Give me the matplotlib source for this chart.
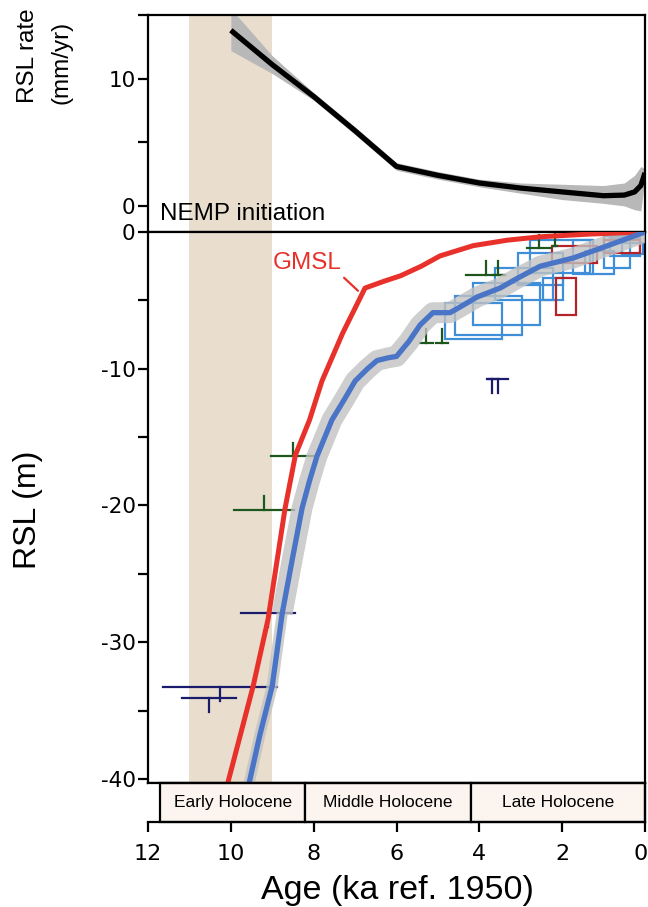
import matplotlib
matplotlib.use('Agg')
import matplotlib.pyplot as plt
from matplotlib.patches import Rectangle
import matplotlib.transforms as mtransforms
import numpy as np

# ---------------- data ----------------
# RSL rate (top panel)
rate_age = [10.0, 9.0, 8.0, 7.0, 6.0, 5.0, 4.0, 3.0, 2.0, 1.0, 0.5, 0.25, 0.1, 0.0]
rate_mid = [13.8, 11.1, 8.6, 5.9, 3.1, 2.4, 1.8, 1.4, 1.1, 0.8, 0.85, 1.1, 1.6, 2.6]
rate_lo = [12.2, 10.4, 8.3, 5.6, 2.8, 2.1, 1.5, 1.0, 0.5, 0.2, 0.0, -0.3, -0.4, 2.3]
rate_hi = [15.5, 11.8, 8.9, 6.2, 3.4, 2.7, 2.1, 1.8, 1.7, 1.6, 1.8, 2.4, 3.1, 2.9]

# GMSL curve
gmsl_age = [10.1, 9.46, 9.1, 8.69, 8.44, 8.1, 7.8, 7.3, 6.76, 6.3, 5.9, 5.4, 4.95,
            4.15, 3.33, 2.53, 1.33, 0.0]
gmsl_rsl = [-40.6, -33.2, -28.3, -20.2, -16.3, -13.75, -10.9, -7.4, -4.1, -3.6, -3.2,
            -2.5, -1.75, -1.0, -0.6, -0.35, -0.15, 0.0]

# RSL model curve
rsl_age = [9.58, 9.3, 9.0, 8.76, 8.52, 8.28, 8.1, 7.92, 7.56, 7.25, 7.0, 6.7, 6.47,
           6.2, 6.0, 5.7, 5.43, 5.12, 4.71, 4.53, 4.05, 3.5, 3.09, 2.53, 1.73, 0.9, 0.0]
rsl_mid = [-40.6, -36.8, -33.2, -27.9, -24.0, -20.2, -18.2, -16.4, -13.75, -12.2,
           -10.9, -10.0, -9.4, -9.2, -9.1, -8.0, -6.8, -5.9, -5.9, -5.6, -4.75, -4.1,
           -3.4, -2.5, -1.9, -1.0, 0.0]

# sea-level index points (blue boxes): older age, younger age, top, bottom
box_old = [4.83, 4.59, 4.15, 3.62, 3.07, 2.46, 2.78, 1.74, 1.45, 1.00, 0.85, 0.55]
box_young = [3.45, 2.97, 2.54, 2.22, 1.98, 1.98, 1.33, 1.26, 0.75, 0.36, 0.12, 0.05]
box_top = [-5.2, -4.7, -3.7, -2.6, -1.5, -3.4, -0.6, -0.6, -1.4, -0.3, -0.45, -0.8]
box_bot = [-7.8, -7.5, -6.8, -5.0, -3.9, -5.0, -3.0, -3.1, -3.1, -2.6, -1.75, -1.6]

# red boxes
rbox_old = [2.15, 2.25, 1.00]
rbox_young = [1.67, 1.16, 0.12]
rbox_top = [-3.4, -1.0, -0.6]
rbox_bot = [-6.1, -2.3, -1.5]

# terrestrial limiting points (green)
tlim_age = [9.2, 8.5, 5.28, 4.90, 3.85, 3.55, 2.55, 2.17]
tlim_err = [0.72, 0.54, 0.15, 0.14, 0.47, 0.12, 0.29, 0.05]
tlim_rsl = [-20.3, -16.4, -8.1, -8.1, -3.15, -3.15, -1.2, -1.0]

# marine limiting points (navy)
mlim_age = [10.26, 10.53, 9.10, 3.69, 3.55]
mlim_err = [1.37, 0.66, 0.65, 0.13, 0.24]
mlim_rsl = [-33.3, -34.1, -27.9, -10.75, -10.75]

# NEMP band and epochs
nemp_old, nemp_young = 11.0, 9.0
epoch_names = ['Early Holocene', 'Middle Holocene', 'Late Holocene']
epoch_old = [11.7, 8.2, 4.2]
epoch_young = [8.2, 4.2, 0.0]

x_ticks = [12, 10, 8, 6, 4, 2, 0]

# ---------------- style ----------------
RED = '#e8312b'
BLUE = '#4a74c6'
BOXBLUE = '#3f8fd8'
BOXRED = '#b3242a'
GREEN = '#1d571d'
NAVY = '#1b1b6b'
TAN = '#e9dece'
EPOCH_FC = '#fbf4ef'
LAB = ['Liberation Sans', 'DejaVu Sans']
TICKF = 'DejaVu Sans'
SW = 1.6

plt.rcParams['font.family'] = LAB

W, H = 648, 907
fig = plt.figure(figsize=(W / 100, H / 100), dpi=100)


def fx(px):
    return px / W


def fy(py):
    return 1 - py / H


L, R = 148, 645
ax_top = fig.add_axes([fx(L), fy(232), fx(R) - fx(L), fy(15) - fy(232)])
ax_bot = fig.add_axes([fx(L), fy(783), fx(R) - fx(L), fy(232) - fy(783)])
ax_ep = fig.add_axes([fx(L), fy(822), fx(R) - fx(L), fy(783) - fy(822)])

for ax in (ax_top, ax_bot, ax_ep):
    for s in ax.spines.values():
        s.set_linewidth(SW)

# ---------- top panel ----------
ax_top.axvspan(nemp_old, nemp_young, color=TAN, lw=0, zorder=0)
ax_top.fill_between(rate_age, rate_lo, rate_hi, color='#b8b8b8', lw=0, zorder=2)
ax_top.plot(rate_age, rate_mid, color='black', lw=3.8, zorder=3,
            solid_capstyle='butt', solid_joinstyle='round')
ax_top.set_xlim(12, 0)
ax_top.set_ylim(-2.05, 15)
ax_top.set_xticks([])
ax_top.set_yticks([0, 5, 10, 15])
ax_top.set_yticklabels(['0', '', '10', ''])
ax_top.tick_params(axis='y', direction='out', length=7.5, width=SW, pad=1.5,
                   labelsize=15.5)
for t in ax_top.get_yticklabels():
    t.set_fontfamily(TICKF)
ax_top.text(11.71, -1.1, 'NEMP initiation', fontsize=17.5, ha='left',
            va='baseline', zorder=5)

# ---------- bottom panel ----------
ax_bot.axvspan(nemp_old, nemp_young, color=TAN, lw=0, zorder=0)

for o, y, t, b in zip(box_old, box_young, box_top, box_bot):
    ax_bot.add_patch(Rectangle((y, b), o - y, t - b, fill=False, ec=BOXBLUE,
                               lw=1.6, zorder=2))
for o, y, t, b in zip(rbox_old, rbox_young, rbox_top, rbox_bot):
    ax_bot.add_patch(Rectangle((y, b), o - y, t - b, fill=False, ec=BOXRED,
                               lw=1.6, zorder=2.1))

for a, e, r in zip(tlim_age, tlim_err, tlim_rsl):
    ax_bot.plot([a - e, a + e], [r, r], color=GREEN, lw=1.6, zorder=2.5)
    ax_bot.plot([a, a], [r, r + 1.0], color=GREEN, lw=1.6, zorder=2.5)
for a, e, r in zip(mlim_age, mlim_err, mlim_rsl):
    ax_bot.plot([a - e, a + e], [r, r], color=NAVY, lw=1.6, zorder=2.5)
    ax_bot.plot([a, a], [r, r - 1.0], color=NAVY, lw=1.6, zorder=2.5)

ra = np.array(rsl_age)
rm = np.array(rsl_mid)
young = ra <= 8.8
ax_bot.plot(ra[young], rm[young], color='#c2c2c2', lw=15, alpha=0.8,
            solid_capstyle='butt', solid_joinstyle='round', zorder=3)
old = ra >= 8.76
ax_bot.plot(ra[old], rm[old], color='#c2c2c2', lw=8, alpha=0.8,
            solid_capstyle='butt', solid_joinstyle='round', zorder=3)

ax_bot.plot(gmsl_age, gmsl_rsl, color=RED, lw=3.6, zorder=4,
            solid_joinstyle='round')
ax_bot.plot(rsl_age, rsl_mid, color=BLUE, lw=3.8, zorder=5,
            solid_joinstyle='round')

ax_bot.annotate('GMSL', xy=(6.93, -4.3), xytext=(8.16, -2.27), color=RED,
                fontsize=17.5, ha='center', va='center', zorder=6,
                arrowprops=dict(arrowstyle='-', color=RED, lw=1.6,
                                shrinkA=1, shrinkB=0, relpos=(0.98, 0.0)))

ax_bot.set_xlim(12, 0)
ax_bot.set_ylim(-40.3, 0)
ax_bot.set_xticks([])
ax_bot.set_yticks(list(range(-40, 1, 5)))
ax_bot.set_yticklabels([str(v) if v % 10 == 0 else '' for v in range(-40, 1, 5)])
ax_bot.tick_params(axis='y', direction='out', length=7.5, width=SW, pad=1.5,
                   labelsize=15.5)
for t in ax_bot.get_yticklabels():
    t.set_fontfamily(TICKF)

# ---------- epoch bar ----------
ax_ep.set_xlim(12, 0)
ax_ep.set_ylim(0, 1)
for name, o, y in zip(epoch_names, epoch_old, epoch_young):
    ax_ep.add_patch(Rectangle((y, 0), o - y, 1, fc=EPOCH_FC, ec='black', lw=SW,
                              clip_on=False, zorder=1))
    ax_ep.text((o + y) / 2, 0.5, name, ha='center', va='center', fontsize=12.5,
               zorder=2)
ax_ep.spines['left'].set_visible(False)
ax_ep.set_yticks([])
ax_ep.set_xticks(x_ticks)
ax_ep.set_xticklabels([str(v) for v in x_ticks])
ax_ep.tick_params(axis='x', direction='out', length=7.5, width=SW, pad=8.5,
                  labelsize=16)
xlabels = ax_ep.get_xticklabels()
for t in xlabels:
    t.set_fontfamily(TICKF)
# nudge the right-most label so it stays inside the picture
last = xlabels[-1]
last.set_transform(last.get_transform() +
                   mtransforms.ScaledTranslation(-4 / 100, 0, fig.dpi_scale_trans))

# ---------- axis labels ----------
fig.text(fx(397), fy(899), 'Age (ka ref. 1950)', fontsize=24.5, ha='center',
         va='baseline')
fig.text(fx(28), fy(510), 'RSL (m)', fontsize=23, rotation=90, ha='center',
         va='center')
fig.text(fx(28), fy(56), 'RSL rate', fontsize=17.5, rotation=90, ha='center',
         va='center')
fig.text(fx(62), fy(62), '(mm/yr)', fontsize=17.5, rotation=90, ha='center',
         va='center')

fig.savefig('out.png', dpi=100)
